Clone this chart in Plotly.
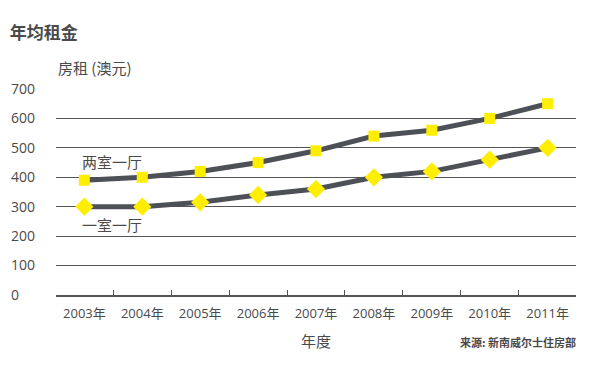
import plotly.graph_objects as go

years = ["2003年", "2004年", "2005年", "2006年", "2007年", "2008年", "2009年", "2010年", "2011年"]
two_bed = [390, 400, 420, 450, 490, 540, 560, 600, 650]
one_bed = [300, 300, 315, 340, 360, 400, 420, 460, 500]
y_ticks = [0, 100, 200, 300, 400, 500, 600, 700]
y_ticktext = ["0\u2007\u2007", "100", "200", "300", "400", "500", "600", "700"]

FONT = "Open Sans, Noto Sans CJK SC, sans-serif"
CJK = "Noto Sans CJK SC, sans-serif"
LINE = "#4d5057"
YELLOW = "#ffee00"
TEXT = "#4a4a4a"

xs = list(range(len(years)))

fig = go.Figure()
fig.add_trace(go.Scatter(
    x=xs, y=two_bed, mode="lines+markers", name="两室一厅",
    line=dict(color=LINE, width=5),
    marker=dict(symbol="square", size=11, color=YELLOW),
))
fig.add_trace(go.Scatter(
    x=xs, y=one_bed, mode="lines+markers", name="一室一厅",
    line=dict(color=LINE, width=5),
    marker=dict(symbol="diamond", size=14, color=YELLOW),
))

fig.update_layout(
    width=612, height=372,
    margin=dict(l=56, r=36, t=89, b=77),
    paper_bgcolor="white", plot_bgcolor="white",
    showlegend=False,
    font=dict(family=FONT, color=TEXT),
    title=dict(text="<b>年均租金</b>", x=0.016, xanchor="left", y=0.91, yanchor="middle",
               font=dict(family=CJK, size=17, color=TEXT), automargin=False),
    xaxis=dict(
        range=[-0.49, 8.49], tickmode="array", tickvals=xs, ticktext=years,
        ticks="", showgrid=False, zeroline=False, automargin=False,
        showline=True, linecolor="#555555", linewidth=1.5, ticklabelstandoff=6,
        tickfont=dict(family=FONT, size=13, color=TEXT),
        minor=dict(tick0=0.5, dtick=1, ticks="inside", ticklen=5, tickcolor="#555555",
                   tickwidth=1, showgrid=False),
        title=dict(text="年度", font=dict(family=CJK, size=15, color=TEXT), standoff=15),
        fixedrange=True,
    ),
    yaxis=dict(
        range=[0, 700], tickmode="array", tickvals=y_ticks, ticktext=y_ticktext,
        showgrid=True, gridcolor="#555555", gridwidth=1, zeroline=False, automargin=False,
        showline=False, ticks="", ticklabelstandoff=20, fixedrange=True,
        tickfont=dict(family=FONT, size=14, color=TEXT),
    ),
    annotations=[
        dict(text="房租 (澳元)", xref="paper", yref="paper", x=0.0, y=1.0, yshift=22,
             xanchor="left", yanchor="middle", showarrow=False,
             font=dict(family=CJK, size=15, color=TEXT)),
        dict(text="两室一厅", xref="paper", yref="y", x=0.047, y=455,
             xanchor="left", yanchor="middle", showarrow=False,
             font=dict(family=CJK, size=15, color=TEXT)),
        dict(text="一室一厅", xref="paper", yref="y", x=0.047, y=240,
             xanchor="left", yanchor="middle", showarrow=False,
             font=dict(family=CJK, size=15, color=TEXT)),
        dict(text="<b>来源: 新南威尔士住房部</b>", xref="paper", yref="paper", x=1.0, xshift=2, y=0, yshift=-47,
             xanchor="right", yanchor="middle", showarrow=False,
             font=dict(family=CJK, size=11, color=TEXT)),
    ],
)

fig.write_html("out.html", config={"displayModeBar": False},
               post_script="document.body.style.margin='0';document.body.style.padding='0';")
